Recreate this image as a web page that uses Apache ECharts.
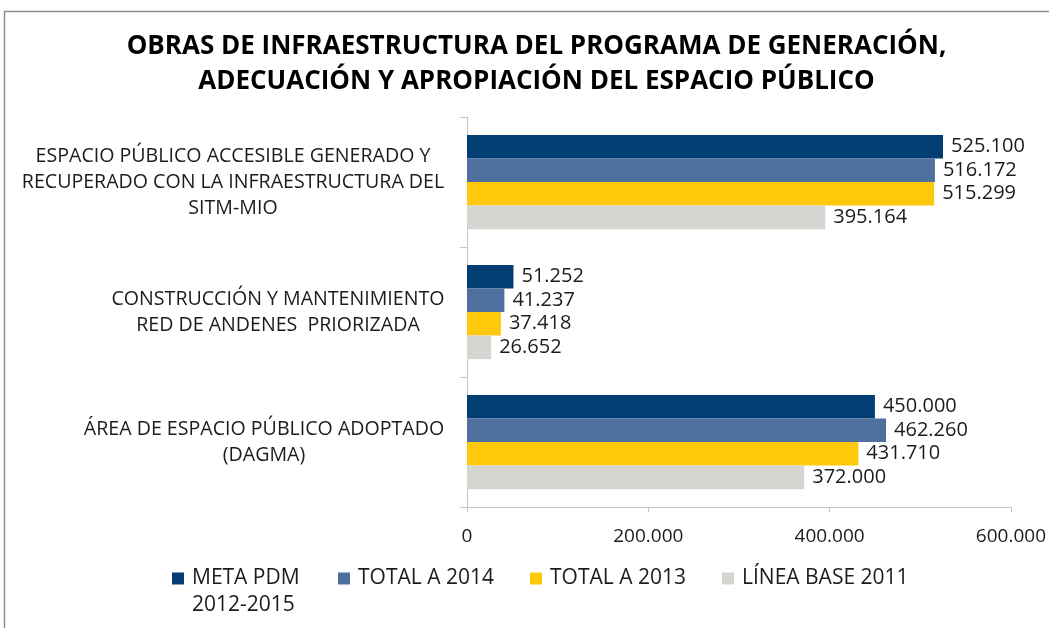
<!DOCTYPE html>
<html>
<head>
<meta charset="utf-8">
<style>
  html, body { margin: 0; padding: 0; background: #ffffff; }
  #chart { width: 1049px; height: 628px; }
</style>
<script src="https://cdn.jsdelivr.net/npm/echarts@6/dist/echarts.min.js"></script>
</head>
<body>
<div id="chart"></div>
<script>
// Categories (top to bottom) and their wrapped label lines
const categories = [
  'ESPACIO PÚBLICO ACCESIBLE GENERADO Y\nRECUPERADO CON LA INFRAESTRUCTURA DEL\nSITM-MIO',
  'CONSTRUCCIÓN Y MANTENIMIENTO\nRED DE ANDENES  PRIORIZADA',
  'ÁREA DE ESPACIO PÚBLICO ADOPTADO\n(DAGMA)'
];

const seriesNames = ['META PDM 2012-2015', 'TOTAL A 2014', 'TOTAL A 2013', 'LÍNEA BASE 2011'];

const metaPdm = [525100, 51252, 450000];
const total2014 = [516172, 41237, 462260];
const total2013 = [515299, 37418, 431710];
const lineaBase2011 = [395164, 26652, 372000];

const xTicks = [0, 200000, 400000, 600000];

const titleText = 'OBRAS DE INFRAESTRUCTURA DEL PROGRAMA DE GENERACIÓN,\nADECUACIÓN Y APROPIACIÓN DEL ESPACIO PÚBLICO';

const seriesValues = [metaPdm, total2014, total2013, lineaBase2011];
const seriesColors = ['#023e73', '#4f6f9f', '#fdc90a', '#d5d5d1'];

const FONT = '"Open Sans", "Noto Sans", sans-serif';
const TEXT = '#1c1c1c';

// Thousands separator with a dot
function fmt(v) {
  return String(Math.round(v)).replace(/\B(?=(\d{3})+(?!\d))/g, '.');
}

const measureCtx = document.createElement('canvas').getContext('2d');
function widest(text, font) {
  measureCtx.font = font;
  return Math.max.apply(null, text.split('\n').map(function (l) { return measureCtx.measureText(l).width; }));
}

// Each category block is centered within its own width, blocks right-aligned to the axis
const LABEL_SIZE = 20;
const CAT_SIZE = 19.6;
const rich = {};
categories.forEach(function (c, i) {
  const w = widest(c, CAT_SIZE + 'px ' + FONT);
  rich['c' + i] = { width: Math.ceil(w) + 1, align: 'center', fontSize: CAT_SIZE, fontFamily: FONT, color: TEXT, lineHeight: 26 };
});

// Title block centered on x = 536, lines centered inside it
const TITLE_SIZE = 26;
const titleWidth = Math.ceil(widest(titleText, 'bold ' + TITLE_SIZE + 'px ' + FONT)) + 1;
const titleLeft = Math.round(536 - titleWidth / 2 - 5);

const chart = echarts.init(document.getElementById('chart'), null, { renderer: 'canvas' });

// One legend per series so each entry sits at its own spot
const LEGEND_SIZE = 21;
const legendLeft = [167, 333, 525, 717];
const legends = seriesNames.map(function (name, i) {
  const twoLine = i === 0;
  return {
    data: [name],
    left: legendLeft[i],
    top: twoLine ? 533 : 560,
    itemWidth: 12,
    itemHeight: 12,
    icon: 'rect',
    selectedMode: false,
    // the blank leading line keeps the marker level with "META PDM"
    formatter: twoLine ? function () { return '{t| }\n{t|META PDM}\n{t|2012-2015}'; } : '{name}',
    textStyle: {
      fontFamily: FONT,
      fontSize: LEGEND_SIZE,
      color: TEXT,
      lineHeight: 27,
      padding: [0, 0, 0, 3],
      rich: { t: { fontFamily: FONT, fontSize: LEGEND_SIZE, color: TEXT, lineHeight: 27 } }
    }
  };
});

const option = {
  backgroundColor: '#ffffff',
  animation: false,
  textStyle: { fontFamily: FONT },
  title: {
    text: '{t|' + titleText + '}',
    left: titleLeft,
    top: 24,
    textStyle: {
      fontFamily: FONT,
      fontSize: TITLE_SIZE,
      fontWeight: 'bold',
      color: '#000000',
      lineHeight: 35,
      rich: {
        t: {
          fontFamily: FONT,
          fontSize: TITLE_SIZE,
          fontWeight: 'bold',
          color: '#000000',
          lineHeight: 35,
          width: titleWidth,
          align: 'center'
        }
      }
    }
  },
  graphic: [{
    type: 'rect',
    shape: { x: 4.5, y: 11.5, width: 1200, height: 800 },
    style: { fill: null, stroke: '#8f8f8f', lineWidth: 1.5 },
    silent: true,
    z: -1
  }],
  legend: legends,
  grid: { left: 467, right: 36, top: 117, bottom: 121, containLabel: false },
  xAxis: {
    type: 'value',
    min: xTicks[0],
    max: xTicks[xTicks.length - 1],
    interval: xTicks[1] - xTicks[0],
    axisLine: { show: true, lineStyle: { color: '#c4c4c4', width: 1 } },
    axisTick: { show: true, length: 5, lineStyle: { color: '#c4c4c4' } },
    splitLine: { show: false },
    axisLabel: {
      formatter: fmt,
      fontSize: 19,
      fontFamily: FONT,
      color: TEXT,
      margin: 20
    }
  },
  yAxis: {
    type: 'category',
    inverse: true,
    data: categories,
    axisLine: { show: true, lineStyle: { color: '#c4c4c4', width: 1 } },
    axisTick: { show: true, length: 7, lineStyle: { color: '#c4c4c4' } },
    axisLabel: {
      margin: 22,
      align: 'right',
      formatter: function (value, idx) { return '{c' + idx + '|' + value + '}'; },
      rich: rich
    }
  },
  series: seriesNames.map(function (name, i) {
    return {
      name: name,
      type: 'bar',
      data: seriesValues[i],
      barGap: '0%',
      barCategoryGap: '27.5%',
      itemStyle: { color: seriesColors[i] },
      label: {
        show: true,
        position: 'right',
        distance: 8,
        formatter: function (p) { return fmt(p.value); },
        fontFamily: FONT,
        fontSize: LABEL_SIZE,
        color: TEXT
      }
    };
  })
};

chart.setOption(option);
</script>
</body>
</html>
